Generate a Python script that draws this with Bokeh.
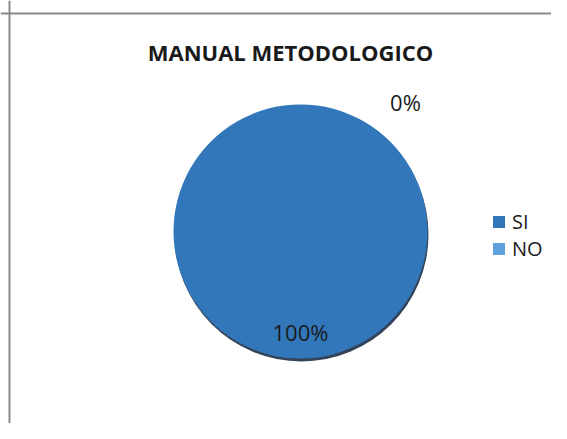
import numpy as np
from bokeh.plotting import figure
from bokeh.models import Range1d, ColumnDataSource, Legend, LegendItem, Span
from bokeh.core.properties import value
from bokeh.embed import file_html
from bokeh.resources import INLINE

title_text = "MANUAL METODOLOGICO"
categories = ["SI", "NO"]
values = [100, 0]
labels = ["100%", "0%"]
colors = ["#3377BB", "#5FA1DC"]

W, H = 551, 423
# data coordinates: x = image x, y = 439 - image y
p = figure(width=W, height=H, output_backend="svg", toolbar_location=None,
           x_range=Range1d(0, W), y_range=Range1d(439 - H, 439),
           min_border=0, outline_line_color=None)
p.axis.visible = False
p.grid.visible = False
p.background_fill_color = "white"
p.border_fill_color = "white"

# chart border (top and left edges visible)
p.add_layout(Span(location=9, dimension="height", line_color="#8a8a8a", line_width=2))
p.add_layout(Span(location=439 - 13, dimension="width", line_color="#8a8a8a", line_width=2))

cx, cy, r = 300, 439 - 231, 127
vals = np.array(values, dtype=float)
frac = vals / vals.sum()
sweep = 2 * np.pi * frac * (1 - 1e-6)  # keep a full slice just under 360 degrees
ends = np.pi / 2 - np.cumsum(sweep)
starts = np.concatenate([[np.pi / 2], ends[:-1]])
alphas = [1.0 if v > 0 else 0.0 for v in values]

src = ColumnDataSource(dict(cat=categories, start=starts, end=ends, color=colors,
                            alpha=alphas,
                            x=[cx] * len(categories), y=[cy] * len(categories),
                            nx=[np.nan] * len(categories)))

# shadow
p.circle(x=[cx + 1], y=[cy - 3], radius=r, fill_color="#1d3048", line_color=None, fill_alpha=0.9)

p.wedge(x="x", y="y", radius=r, start_angle="start", end_angle="end", direction="clock",
        fill_color="color", fill_alpha="alpha", line_color=None, source=src)

# legend swatches (not drawn in the plot area)
sw = p.rect(x="nx", y="nx", width=1, height=1, fill_color="color", line_color=None, source=src)

# data labels
mid = (starts + ends) / 2
lx = [cx + 0.8 * r * np.cos(mid[0]), cx + 105]
ly = [cy + 0.8 * r * np.sin(mid[0]) + 1, cy + 130]
p.text(x=lx, y=ly, text=labels, text_align="center", text_baseline="middle",
       text_font=value("Open Sans"), text_font_size="22px", text_color="#1a1a1a")

p.text(x=[290], y=[439 - 51], text=[title_text], text_align="center", text_baseline="middle",
       text_font=value("Open Sans"), text_font_style="bold", text_font_size="22px",
       text_color="#1a1a1a")

legend = Legend(items=[LegendItem(label=c, renderers=[sw], index=i) for i, c in enumerate(categories)],
                location=(491, 161), orientation="vertical",
                glyph_width=15, glyph_height=15, label_standoff=6, spacing=0, label_height=20,
                padding=0, margin=0, border_line_color=None, background_fill_alpha=0,
                label_text_font="Open Sans", label_text_font_size="20px", label_text_color="#1a1a1a")
p.add_layout(legend)

open("out.html", "w").write(file_html(p, INLINE))
